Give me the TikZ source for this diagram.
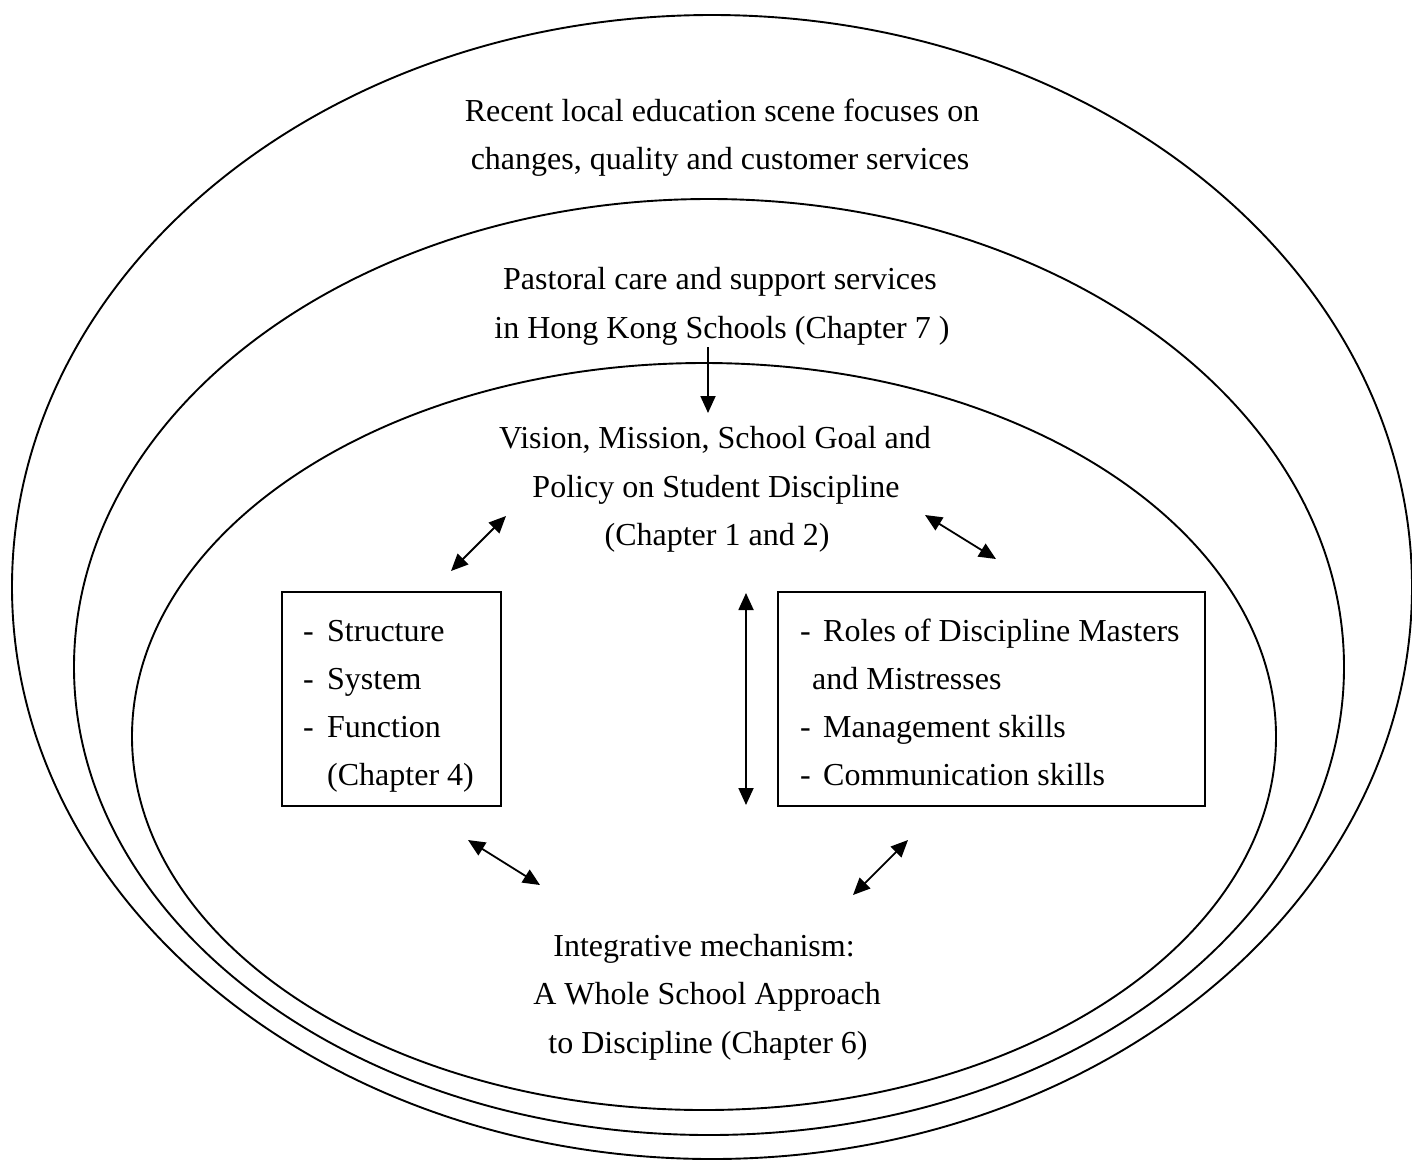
\documentclass[tikz,border=0pt]{standalone}
\usepackage{fontspec}
\setmainfont{Liberation Serif}
\usetikzlibrary{arrows.meta}
\tikzset{
  ring/.style={line width=1.9pt},
  txt/.style={inner sep=0pt, font=\fontsize{32}{48}\selectfont, anchor=base},
  ltxt/.style={txt, anchor=base west},
  boxnode/.style={draw, line width=1.9pt, inner sep=0pt},
  link/.style={line width=1.8pt, {Triangle[length=17pt,width=15pt]}-{Triangle[length=17pt,width=15pt]}},
  onelink/.style={line width=1.8pt, -{Triangle[length=17pt,width=15pt]}}
}
\begin{document}
\begin{tikzpicture}[x=1pt,y=-1pt]
\clip (0,0) rectangle (1412,1160);
\fill[white] (0,0) rectangle (1412,1160);
% ellipses
\draw[ring] (712,587) ellipse [x radius=700pt, y radius=572pt];
\draw[ring] (709,667) ellipse [x radius=635pt, y radius=468pt];
\draw[ring] (704,736.5) ellipse [x radius=572pt, y radius=373.5pt];
% outer texts
\node[txt] (t1) at (722,121) {Recent local education scene focuses on};
\node[txt] (t2) at (720,169) {changes, quality and customer services};
\node[txt] (p1) at (720,289) {Pastoral care and support services};
\node[txt] (p2) at (722,338) {in Hong Kong Schools (Chapter 7 )};
\node[txt] (v1) at (715,448) {Vision, Mission, School Goal and};
\node[txt] (v2) at (716,497) {Policy on Student Discipline};
\node[txt] (v3) at (717,545) {(Chapter 1 and 2)};
\node[txt] (i1) at (704,956) {Integrative mechanism:};
\node[txt] (i2) at (707,1004) {A Whole School Approach};
\node[txt] (i3) at (708,1053) {to Discipline (Chapter 6)};
% boxes
\node[boxnode, minimum width=219pt, minimum height=214pt] (lbox) at (391.5,699) {};
\node[boxnode, minimum width=427pt, minimum height=214pt] (rbox) at (991.5,699) {};
\node[ltxt] (l1) at (303,641) {\makebox[24pt][l]{-}Structure};
\node[ltxt] (l2) at (303,689) {\makebox[24pt][l]{-}System};
\node[ltxt] (l3) at (303,737) {\makebox[24pt][l]{-}Function};
\node[ltxt] (l4) at (327,785) {(Chapter 4)};
\node[ltxt] (r1) at (800,641) {\makebox[23pt][l]{-}Roles of Discipline Masters};
\node[ltxt] (r2) at (812,689) {and Mistresses};
\node[ltxt] (r3) at (800,737) {\makebox[23pt][l]{-}Management skills};
\node[ltxt] (r4) at (800,785) {\makebox[23pt][l]{-}Communication skills};
% arrow end points
\coordinate (d0) at (708,347);
\coordinate (d1) at (708,413);
\coordinate (ul0) at (451,571);
\coordinate (ul1) at (506,516);
\coordinate (ur0) at (925,515);
\coordinate (ur1) at (996,559);
\coordinate (m0) at (746,593);
\coordinate (m1) at (746,805);
\coordinate (ll0) at (468,840);
\coordinate (ll1) at (540,885);
\coordinate (lr0) at (908,840);
\coordinate (lr1) at (853,895);
\draw[onelink] (d0) -- (d1);
\draw[link] (ul0) -- (ul1);
\draw[link] (ur0) -- (ur1);
\draw[link] (m0) -- (m1);
\draw[link] (ll0) -- (ll1);
\draw[link] (lr0) -- (lr1);
\end{tikzpicture}
\end{document}
